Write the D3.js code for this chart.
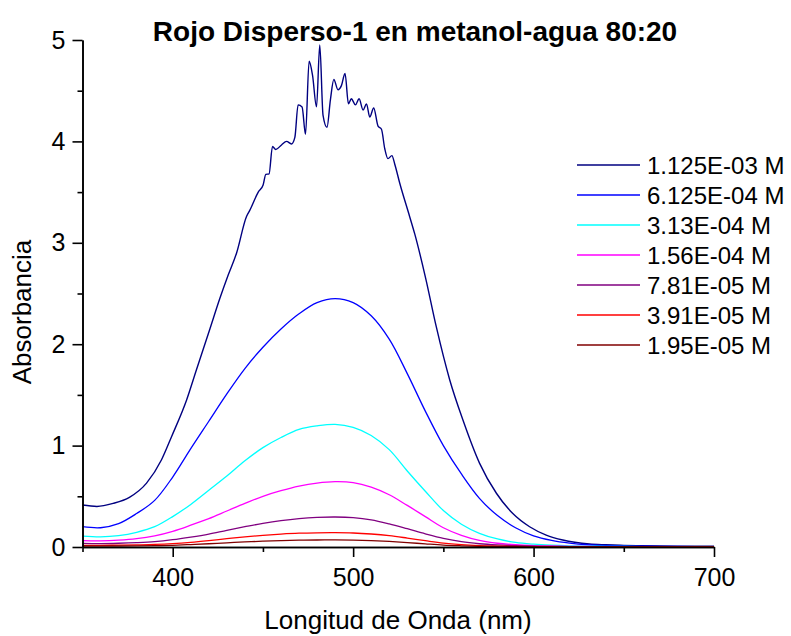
<!DOCTYPE html>
<html>
<head>
<meta charset="utf-8">
<script src="https://cdn.jsdelivr.net/npm/d3@7"></script>
<style>
  body { margin: 0; background: #ffffff; }
  svg text { font-family: Arial, "Liberation Sans", sans-serif; fill: #000; }
</style>
</head>
<body>
<svg id="chart" width="791" height="636"></svg>
<script>
// wavelengths (nm) shared by the smooth spectra
var wl = [350,360,370,380,390,400,410,420,430,440,450,460,470,480,490,500,510,520,
          530,540,550,560,570,580,590,600,610,620,630,640,650,660,670,680,690,700];

// absorbance readings per concentration
var abs612 = [0.20,0.19,0.23,0.33,0.46,0.69,0.97,1.24,1.51,1.76,1.97,2.15,2.30,2.41,2.45,2.41,2.28,2.05,
              1.71,1.34,1.00,0.72,0.48,0.31,0.19,0.11,0.065,0.038,0.022,0.015,0.010,0.008,0.006,0.005,0.004,0.004];
var abs313 = [0.108,0.100,0.112,0.145,0.20,0.30,0.42,0.56,0.70,0.85,0.98,1.08,1.16,1.195,1.21,1.18,1.10,0.96,
              0.75,0.55,0.36,0.225,0.135,0.079,0.045,0.028,0.018,0.012,0.009,0.007,0.005,0.004,0.004,0.003,0.003,0.003];
var abs156 = [0.062,0.060,0.067,0.082,0.11,0.155,0.215,0.28,0.355,0.43,0.50,0.555,0.60,0.63,0.644,0.635,0.59,0.515,
              0.41,0.30,0.19,0.115,0.065,0.037,0.022,0.014,0.010,0.007,0.005,0.004,0.003,0.003,0.002,0.002,0.002,0.002];
var abs781 = [0.036,0.034,0.037,0.043,0.053,0.072,0.098,0.128,0.165,0.20,0.233,0.26,0.28,0.292,0.296,0.290,0.268,0.228,
              0.180,0.13,0.085,0.052,0.032,0.020,0.013,0.009,0.006,0.004,0.003,0.003,0.002,0.002,0.002,0.001,0.001,0.001];
var abs391 = [0.017,0.016,0.018,0.021,0.025,0.033,0.046,0.063,0.082,0.10,0.115,0.127,0.136,0.140,0.141,0.138,0.128,0.112,
              0.088,0.062,0.038,0.023,0.014,0.009,0.006,0.004,0.003,0.002,0.002,0.001,0.001,0.001,0.001,0.001,0.001,0.001];
var abs195 = [0.010,0.009,0.010,0.011,0.013,0.017,0.024,0.032,0.041,0.050,0.057,0.063,0.067,0.069,0.070,0.068,0.063,0.055,
              0.044,0.031,0.019,0.012,0.007,0.005,0.003,0.002,0.002,0.001,0.001,0.001,0.001,0.001,0.001,0.001,0.001,0.001];

// the most concentrated one is noisy at the top, read point by point
var wlNavy = [350,358,367,376,385.5,393.8,399.4,407.7,413.2,420.6,426.1,430.7,435.4,440.9,442.7,447.4,450.1,451.6,
              453.4,455.3,457.1,460.3,463.1,465.8,467.7,469.5,471.7,473.6,475.6,477.5,479.7,481.5,483.3,485.5,487.4,489.3,
              491.6,493.5,495.5,497.4,499,501.3,503.3,505.5,507.4,509.2,511.4,513.8,515.7,517.5,519.3,521.5,523,525.8,
              531.3,534.1,540.2,546.1,553.5,560.9,570.1,579.4,588.5,597.8,607,616.2,631,640,650,660,670,680,690,700];
var abs1125 = [0.414,0.40,0.43,0.49,0.63,0.86,1.09,1.45,1.75,2.15,2.45,2.68,2.90,3.26,3.32,3.50,3.57,3.675,
               3.68,3.95,3.92,3.965,4.00,3.975,4.04,4.36,4.34,4.07,4.79,4.65,4.34,4.95,4.26,4.14,4.41,4.61,
               4.51,4.55,4.67,4.37,4.42,4.36,4.42,4.31,4.37,4.24,4.33,4.15,4.12,3.93,3.83,3.86,3.78,3.59,
               3.26,3.09,2.65,2.17,1.65,1.25,0.825,0.53,0.33,0.20,0.118,0.069,0.030,0.022,0.016,0.012,0.010,0.009,0.008,0.008];

var names = ["1.125E-03 M","6.125E-04 M","3.13E-04 M","1.56E-04 M","7.81E-05 M","3.91E-05 M","1.95E-05 M"];
var colors = ["#000080","#0000ff","#00ffff","#ff00ff","#800080","#ff0000","#800000"];

var xMajor = [400,500,600,700], xMinor = [350,450,550,650];
var yMajor = [0,1,2,3,4,5], yMinor = [0.5,1.5,2.5,3.5,4.5];

var svg = d3.select("#chart"),
    margin = {top: 40, right: 77, bottom: 89, left: 82.5},
    width = +svg.attr("width") - margin.left - margin.right,
    height = +svg.attr("height") - margin.top - margin.bottom;

var x = d3.scaleLinear().domain([350, 700]).range([0, width]);
var y = d3.scaleLinear().domain([0, 5]).range([height, 0]);

var g = svg.append("g")
    .attr("transform", "translate(" + margin.left + "," + margin.top + ")");

var series = [
  {xs: wlNavy, ys: abs1125},
  {xs: wl, ys: abs612},
  {xs: wl, ys: abs313},
  {xs: wl, ys: abs156},
  {xs: wl, ys: abs781},
  {xs: wl, ys: abs391},
  {xs: wl, ys: abs195}
];

var noisyLine = d3.line()
    .x(function (d) { return x(d[0]); })
    .y(function (d) { return y(d[1]); })
    .curve(d3.curveMonotoneX);
var smoothLine = d3.line()
    .x(function (d) { return x(d[0]); })
    .y(function (d) { return y(d[1]); })
    .curve(d3.curveCatmullRom.alpha(0.5));

series.forEach(function (s, i) {
  g.append("path")
      .datum(d3.zip(s.xs, s.ys))
      .attr("fill", "none")
      .attr("stroke", colors[i])
      .attr("stroke-width", i == 0 ? 1.4 : 1.3)
      .attr("d", i == 0 ? noisyLine : smoothLine);
});

// axes
function styleAxis(sel) {
  sel.select(".domain").attr("stroke", "#000").attr("stroke-width", 1.6);
  sel.selectAll(".tick line").attr("stroke", "#000").attr("stroke-width", 1.6);
  sel.selectAll("text").style("font-size", "25px").style("font-family", "Arial, 'Liberation Sans', sans-serif");
}

g.append("g")
    .attr("transform", "translate(0," + height + ")")
    .call(d3.axisBottom(x).tickValues(xMinor).tickSize(5).tickSizeOuter(0).tickFormat(""))
    .call(styleAxis);
g.append("g")
    .attr("class", "x axis")
    .attr("transform", "translate(0," + height + ")")
    .call(d3.axisBottom(x).tickValues(xMajor).tickSize(10).tickSizeOuter(0).tickPadding(11))
    .call(styleAxis);

g.append("g")
    .call(d3.axisLeft(y).tickValues(yMinor).tickSize(5).tickSizeOuter(0).tickFormat(""))
    .call(styleAxis);
g.append("g")
    .attr("class", "y axis")
    .call(d3.axisLeft(y).tickValues(yMajor).tickSize(10).tickSizeOuter(0).tickPadding(7).tickFormat(d3.format("d")))
    .call(styleAxis);

// titles
svg.append("text")
    .attr("x", 415).attr("y", 41)
    .attr("text-anchor", "middle")
    .style("font-size", "28px").style("font-weight", "bold")
    .text("Rojo Disperso-1 en metanol-agua 80:20");

svg.append("text")
    .attr("x", 398).attr("y", 629)
    .attr("text-anchor", "middle")
    .style("font-size", "26px")
    .text("Longitud de Onda (nm)");

svg.append("text")
    .attr("transform", "translate(31,312) rotate(-90)")
    .attr("text-anchor", "middle")
    .style("font-size", "26px")
    .text("Absorbancia");

// legend
var legend = svg.append("g").attr("transform", "translate(577,165)");
names.forEach(function (n, i) {
  legend.append("line")
      .attr("x1", 0).attr("x2", 63)
      .attr("y1", i * 30).attr("y2", i * 30)
      .attr("stroke", colors[i]).attr("stroke-width", 1.3);
  legend.append("text")
      .attr("x", 70).attr("y", i * 30).attr("dy", "0.36em")
      .style("font-size", "24px")
      .text(n);
});
</script>
</body>
</html>
